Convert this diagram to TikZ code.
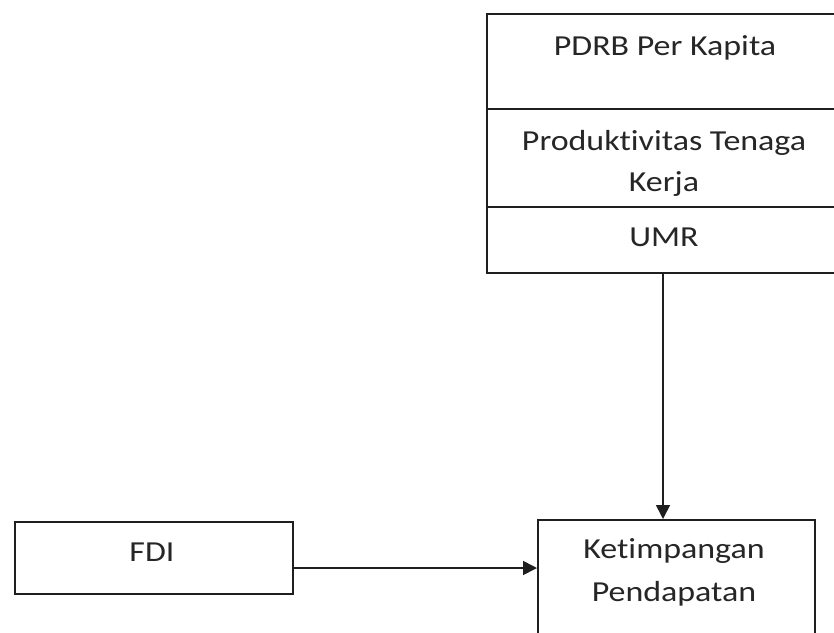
\documentclass[tikz,border=0pt]{standalone}
\usepackage{fontspec}
\setmainfont{Carlito}[FakeStretch=1.17, Ligatures=NoCommon]
\usetikzlibrary{arrows.meta}
\begin{document}
\begin{tikzpicture}[x=1pt,y=1pt,
  boxline/.style={draw=black!88, line width=1.6pt},
  label/.style={anchor=base, inner sep=0pt, text=black!85, font=\fontsize{29}{34}\selectfont},
  conn/.style={draw=black!88, line width=1.6pt, -{Triangle[length=14pt,width=14pt]}}]
\useasboundingbox (0,0) rectangle (834,-632);
\fill[white] (0,0) rectangle (834,-632);
\begin{scope}
\clip (0,0) rectangle (834,-632);
% top stacked box
\node[boxline, anchor=north west, minimum width=380pt, minimum height=259pt, inner sep=0pt] (top) at (486,-13) {};
\coordinate (d1l) at (486,-109); \coordinate (d1r) at (866,-109);
\coordinate (d2l) at (486,-207); \coordinate (d2r) at (866,-207);
\draw[boxline] (d1l) -- (d1r);
\draw[boxline] (d2l) -- (d2r);
% target box
\node[boxline, anchor=north west, minimum width=277pt, minimum height=200pt, inner sep=0pt] (ket) at (537,-519) {};
% FDI box
\node[boxline, anchor=north west, minimum width=278pt, minimum height=72pt, inner sep=0pt] (fdi) at (14,-521) {};
\end{scope}
% labels
\node[label] (t1) at (665,-55) {PDRB Per Kapita};
\node[label] (t2) at (664,-150) {Produktivitas Tenaga};
\node[label] (t3) at (664,-191) {Kerja};
\node[label] (t4) at (664,-246) {UMR};
\node[label] (t5) at (674,-558) {Ketimpangan};
\node[label] (t6) at (674,-601) {Pendapatan};
\node[label] (t7) at (152,-561) {FDI};
% connectors
\coordinate (a1) at (663,-272);
\draw[conn] (a1) -- (a1 |- ket.north);
\coordinate (a2) at (292,-568);
\draw[conn] (a2) -- (a2 -| ket.west);
\end{tikzpicture}
\end{document}
